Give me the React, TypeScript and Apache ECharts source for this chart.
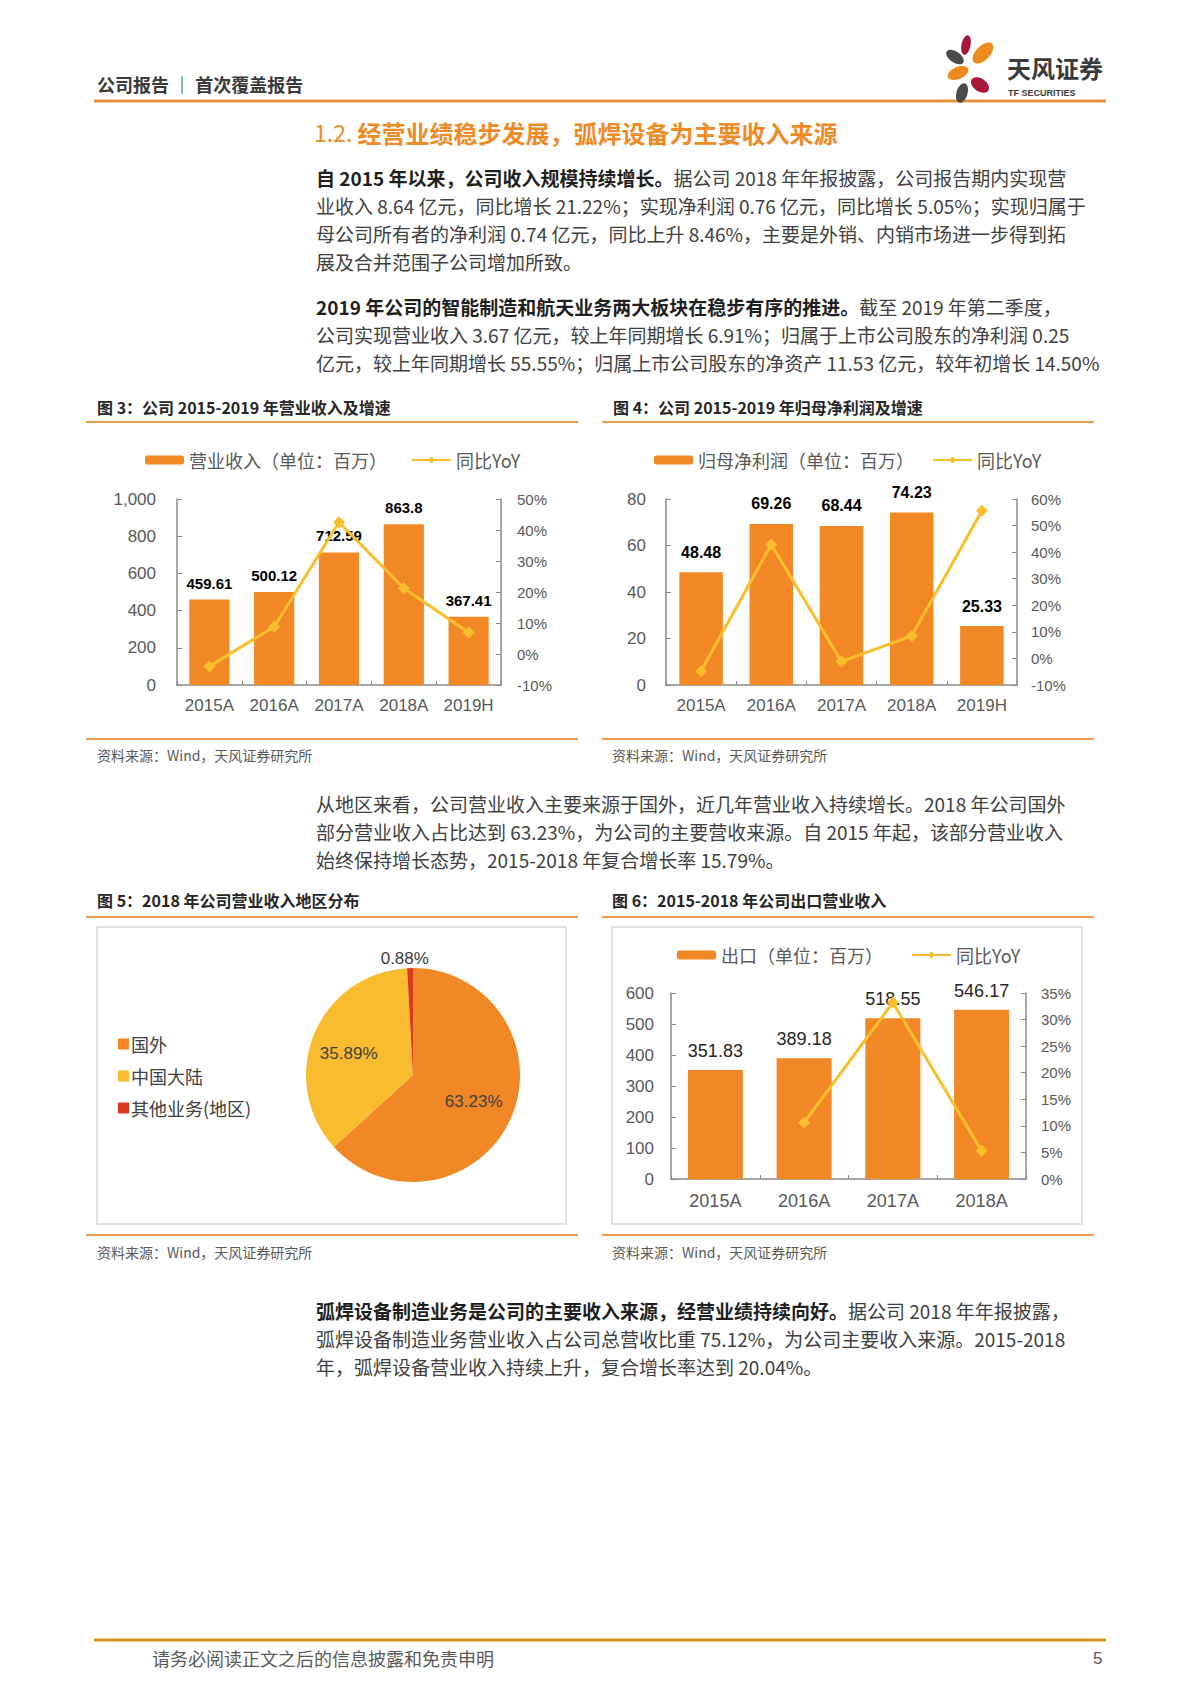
import React, { useEffect, useRef } from 'react';
import * as echarts from 'echarts';

const W = 1200;
const H = 1698;

// ---------- data ----------
const years5 = ['2015A', '2016A', '2017A', '2018A', '2019H'];
const revenue = [459.61, 500.12, 712.59, 863.8, 367.41];
const revenueYoY = [-4.0, 8.8, 42.5, 21.22, 6.91];
const profit = [48.48, 69.26, 68.44, 74.23, 25.33];
const profitYoY = [-4.7, 42.9, -1.2, 8.46, 55.55];
const years4 = ['2015A', '2016A', '2017A', '2018A'];
const exportVals = [351.83, 389.18, 518.55, 546.17];
const exportYoY = [null, 10.6, 33.2, 5.3];
const regionNames = ['国外', '中国大陆', '其他业务(地区)'];
const regionShares = [63.23, 35.89, 0.88];

const revName = '营业收入（单位：百万）';
const profName = '归母净利润（单位：百万）';
const expName = '出口（单位：百万）';
const yoyName = '同比YoY';

// ---------- styles ----------
const ORANGE = '#F28726';
const YELLOW = '#F9BF2B';
const RED = '#D93A1E';
const PIE_YELLOW = '#F9BC2F';
const AXIS = '#8a8a8a';
const LAT = "'Liberation Sans', 'Noto Sans CJK SC', sans-serif";
const CJK = "'Noto Sans CJK SC', 'Liberation Sans', sans-serif";
const NARROW = "'Liberation Sans Narrow', 'Liberation Sans', sans-serif";
const BODYFONT = "'Noto Sans CJK SC', sans-serif";
const BODY = '#404040';
const PFS = 19;

function txt(x: number, y: number, text: string, o: any = {}) {
  return {
    type: 'text',
    x,
    y,
    silent: true,
    style: {
      text,
      fill: o.fill || BODY,
      fontSize: o.fontSize || 20,
      fontWeight: o.fontWeight || 'normal',
      fontFamily: o.fontFamily || CJK,
      align: o.align || 'left',
      verticalAlign: 'middle',
      rich: o.rich,
    },
  };
}

const paraRich = {
  b: { fontSize: PFS, fontWeight: 'bold', fill: '#1f1f1f', fontFamily: BODYFONT },
  n: { fontSize: PFS, fill: BODY, fontFamily: BODYFONT },
};

function para(x: number, ys: number[], lines: string[]) {
  return lines.map((l, i) =>
    txt(x, ys[i], l.indexOf('{') === 0 ? l : '{n|' + l + '}', { rich: paraRich })
  );
}

function hline(x1: number, x2: number, y: number, color: string, w: number) {
  return {
    type: 'line',
    silent: true,
    shape: { x1, y1: y, x2, y2: y },
    style: { stroke: color, lineWidth: w },
  };
}

function petal(cx: number, cy: number, rx: number, ry: number, rot: number, color: string) {
  return {
    type: 'ellipse',
    x: cx,
    y: cy,
    rotation: rot,
    silent: true,
    shape: { cx: 0, cy: 0, rx, ry },
    style: { fill: color },
  };
}

const TITLE_LINE = '#EE9B52';
const SRC = '资料来源：Wind，天风证券研究所';

const graphics: any[] = [
  // header
  txt(97, 84, '公司报告 ｜ 首次覆盖报告', { fontSize: 18, fontWeight: 'bold', fill: '#3a3a3a' }),
  hline(94, 1106, 101, '#E8913A', 3),
  petal(966, 45, 4.5, 10, -0.2, '#A8173B'),
  petal(983, 53, 13, 7, 0.8, '#EE8A1E'),
  petal(955, 57, 10, 5.5, -0.6, '#4B4B4B'),
  petal(958, 73, 11, 6, 0.4, '#EE8A1E'),
  petal(980, 85, 10, 6.5, -0.6, '#A8173B'),
  petal(962, 93, 5.5, 10, -0.3, '#4B4B4B'),
  txt(1007, 67, '天风证券', { fontSize: 24, fill: '#3a3a3a', fontWeight: 'bold' }),
  txt(1008, 93, 'TF SECURITIES', { fontSize: 9, fill: '#3a3a3a', fontWeight: 'bold', fontFamily: NARROW }),
  // section title
  txt(314, 132, '{a|1.2. }{b|经营业绩稳步发展，弧焊设备为主要收入来源}', {
    rich: {
      a: { fontSize: 23, fill: '#F08A24', fontFamily: CJK },
      b: { fontSize: 24, fill: '#F08A24', fontFamily: CJK, fontWeight: 'bold' },
    },
  }),
  ...para(316, [177, 205, 233, 261], [
    '{b|自 2015 年以来，公司收入规模持续增长。}{n|据公司 2018 年年报披露，公司报告期内实现营}',
    '业收入 8.64 亿元，同比增长 21.22%；实现净利润 0.76 亿元，同比增长 5.05%；实现归属于',
    '母公司所有者的净利润 0.74 亿元，同比上升 8.46%，主要是外销、内销市场进一步得到拓',
    '展及合并范围子公司增加所致。',
  ]),
  ...para(316, [306, 334, 362], [
    '{b|2019 年公司的智能制造和航天业务两大板块在稳步有序的推进。}{n|截至 2019 年第二季度，}',
    '公司实现营业收入 3.67 亿元，较上年同期增长 6.91%；归属于上市公司股东的净利润 0.25',
    '亿元，较上年同期增长 55.55%；归属上市公司股东的净资产 11.53 亿元，较年初增长 14.50%',
  ]),
  // chart 3/4 frames
  txt(97, 407, '图 3：公司 2015-2019 年营业收入及增速', { fontSize: 16, fontWeight: 'bold', fill: '#262626' }),
  txt(613, 407, '图 4：公司 2015-2019 年归母净利润及增速', { fontSize: 16, fontWeight: 'bold', fill: '#262626' }),
  hline(86, 578, 422, TITLE_LINE, 2),
  hline(602, 1094, 422, TITLE_LINE, 2),
  hline(86, 578, 739, TITLE_LINE, 2),
  hline(602, 1094, 739, TITLE_LINE, 2),
  txt(97, 755, SRC, { fontSize: 14, fill: '#595959' }),
  txt(612, 755, SRC, { fontSize: 14, fill: '#595959' }),
  ...para(316, [803, 831, 859], [
    '从地区来看，公司营业收入主要来源于国外，近几年营业收入持续增长。2018 年公司国外',
    '部分营业收入占比达到 63.23%，为公司的主要营收来源。自 2015 年起，该部分营业收入',
    '始终保持增长态势，2015-2018 年复合增长率 15.79%。',
  ]),
  // chart 5/6 frames
  txt(97, 900, '图 5：2018 年公司营业收入地区分布', { fontSize: 16, fontWeight: 'bold', fill: '#262626' }),
  txt(612, 900, '图 6：2015-2018 年公司出口营业收入', { fontSize: 16, fontWeight: 'bold', fill: '#262626' }),
  hline(86, 578, 917, TITLE_LINE, 2),
  hline(602, 1094, 917, TITLE_LINE, 2),
  {
    type: 'rect', silent: true, z: -1,
    shape: { x: 97, y: 927, width: 469, height: 297 },
    style: { fill: '#fff', stroke: '#D9D9D9', lineWidth: 1.5 },
  },
  {
    type: 'rect', silent: true, z: -1,
    shape: { x: 612, y: 927, width: 470, height: 297 },
    style: { fill: '#fff', stroke: '#D9D9D9', lineWidth: 1.5 },
  },
  hline(86, 578, 1235, TITLE_LINE, 2),
  hline(602, 1094, 1235, TITLE_LINE, 2),
  txt(97, 1252, SRC, { fontSize: 14, fill: '#595959' }),
  txt(612, 1252, SRC, { fontSize: 14, fill: '#595959' }),
  ...para(316, [1310, 1338, 1366], [
    '{b|弧焊设备制造业务是公司的主要收入来源，经营业绩持续向好。}{n|据公司 2018 年年报披露，}',
    '弧焊设备制造业务营业收入占公司总营收比重 75.12%，为公司主要收入来源。2015-2018',
    '年，弧焊设备营业收入持续上升，复合增长率达到 20.04%。',
  ]),
  // footer
  hline(94, 1106, 1640, '#D9921E', 3),
  txt(152, 1658, '请务必阅读正文之后的信息披露和免责申明', { fontSize: 18, fill: '#595959' }),
  txt(1093, 1658, '5', { fontSize: 17, fill: '#595959', fontFamily: LAT }),
];

// ---------- axes helpers ----------
function catAxis(gridIndex: number, data: string[], fontSize: number, margin: number) {
  return {
    type: 'category',
    gridIndex,
    data,
    axisLine: { show: true, lineStyle: { color: AXIS, width: 1.5 } },
    axisTick: { show: true, inside: true, length: 4, lineStyle: { color: AXIS } },
    axisLabel: { color: '#595959', fontSize, fontFamily: LAT, margin, interval: 0 },
    splitLine: { show: false },
  };
}

function valAxis(gridIndex: number, pos: string, min: number, max: number, interval: number, fmt: any, fontSize: number, margin: number, fam: string) {
  return {
    type: 'value',
    gridIndex,
    position: pos,
    min,
    max,
    interval,
    axisLine: { show: true, lineStyle: { color: AXIS, width: 1.5 } },
    axisTick: { show: true, inside: true, length: 5, lineStyle: { color: AXIS } },
    axisLabel: { color: '#595959', fontSize, fontFamily: fam, margin, formatter: fmt },
    splitLine: { show: false },
  };
}

const pct = (v: number) => v + '%';
const comma = (v: number) => v.toLocaleString('en-US');

function barSeries(name: string, xi: number, yi: number, data: number[], bold: boolean, dist: number, fs: number) {
  return {
    type: 'bar',
    name,
    xAxisIndex: xi,
    yAxisIndex: yi,
    data,
    barWidth: '62%',
    itemStyle: { color: ORANGE },
    label: {
      show: true,
      position: 'top',
      distance: dist,
      color: bold ? '#000' : '#262626',
      fontWeight: bold ? 'bold' : 'normal',
      fontSize: fs,
      fontFamily: LAT,
    },
  };
}

function lineSeries(xi: number, yi: number, data: (number | null)[]) {
  return {
    type: 'line',
    name: yoyName,
    xAxisIndex: xi,
    yAxisIndex: yi,
    data,
    symbol: 'diamond',
    symbolSize: 12,
    color: YELLOW,
    itemStyle: { color: YELLOW },
    lineStyle: { color: YELLOW, width: 3 },
    z: 3,
  };
}

function legend(left: number, top: number, data: string[], gap: number) {
  return {
    left,
    top,
    padding: 0,
    itemWidth: 39,
    itemHeight: 9,
    itemGap: gap,
    data,
    selectedMode: false,
    textStyle: { color: '#595959', fontSize: 18, fontFamily: CJK },
  };
}

const option: any = {
  animation: false,
  backgroundColor: '#ffffff',
  graphic: graphics,
  legend: [
    legend(145, 451, [revName, yoyName], 24),
    legend(654, 451, [profName, yoyName], 18),
    {
      orient: 'vertical',
      left: 118,
      top: 1035,
      padding: 0,
      itemWidth: 11,
      itemHeight: 11,
      itemGap: 14,
      icon: 'rect',
      selectedMode: false,
      data: regionNames,
      textStyle: { color: BODY, fontSize: 18, fontFamily: CJK, padding: [0, 0, 0, -3] },
    },
    legend(677, 946, [expName, yoyName], 28),
  ],
  grid: [
    { left: 177, top: 499, width: 324, height: 186 },
    { left: 666, top: 499, width: 351, height: 186 },
    { left: 671, top: 993, width: 355, height: 186 },
  ],
  xAxis: [
    catAxis(0, years5, 17, 12),
    catAxis(1, years5, 17, 12),
    catAxis(2, years4, 18, 13),
  ],
  yAxis: [
    valAxis(0, 'left', 0, 1000, 200, comma, 17, 21, LAT),
    valAxis(0, 'right', -10, 50, 10, pct, 15, 16, NARROW),
    valAxis(1, 'left', 0, 80, 20, null, 17, 20, LAT),
    valAxis(1, 'right', -10, 60, 10, pct, 15, 14, NARROW),
    valAxis(2, 'left', 0, 600, 100, null, 17, 17, LAT),
    valAxis(2, 'right', 0, 35, 5, pct, 15, 15, NARROW),
  ],
  series: [
    barSeries(revName, 0, 0, revenue, true, 9, 15),
    lineSeries(0, 1, revenueYoY),
    barSeries(profName, 1, 2, profit, true, 12, 16),
    lineSeries(1, 3, profitYoY),
    {
      type: 'pie',
      center: [413, 1075],
      radius: 107,
      startAngle: 90,
      clockwise: true,
      label: {
        show: true,
        position: 'inside',
        color: BODY,
        fontSize: 17,
        fontFamily: LAT,
        formatter: (p: any) => p.value.toFixed(2) + '%',
      },
      labelLine: { show: false, length: 10, length2: 0 },
      labelLayout: (p: any) => {
        if (p.dataIndex === 2) return { align: 'center' };
        if (p.dataIndex === 0) return { dx: 9, dy: 4 };
        return { dx: -12, dy: 0 };
      },
      data: regionNames.map((n, i) => ({
        name: n,
        value: regionShares[i],
        itemStyle: { color: [ORANGE, PIE_YELLOW, RED][i] },
        label: i === 2 ? { position: 'outside' } : undefined,
      })),
    },
    barSeries(expName, 2, 4, exportVals, false, 10, 18),
    lineSeries(2, 5, exportYoY),
  ],
};

export default function App() {
  const ref = useRef<HTMLDivElement>(null);
  useEffect(() => {
    if (!ref.current) return;
    const chart = echarts.init(ref.current, null, { renderer: 'svg', width: W, height: H });
    chart.setOption(option);
    return () => chart.dispose();
  }, []);
  return (
    <div
      ref={ref}
      style={{ position: 'absolute', left: 0, top: 0, width: W, height: H, background: '#fff' }}
    />
  );
}
